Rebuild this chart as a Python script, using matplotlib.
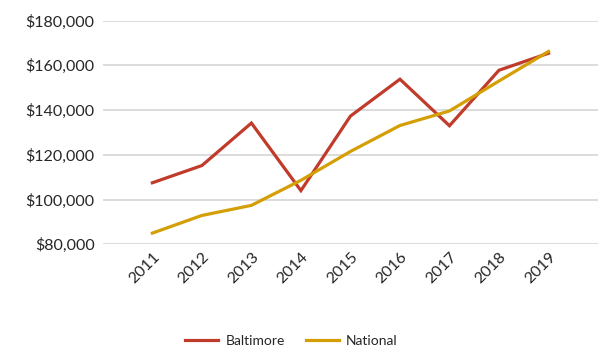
import numpy as np
import matplotlib.pyplot as plt
from matplotlib.ticker import FuncFormatter

# data
years = [2011, 2012, 2013, 2014, 2015, 2016, 2017, 2018, 2019]
baltimore = [107500, 115200, 134200, 104000, 137300, 153800, 133000, 157800, 165400]
national = [85000, 92900, 97400, 108600, 121500, 133100, 139600, 153000, 166200]

plt.rcParams['font.family'] = ['Lato', 'DejaVu Sans']

fig = plt.figure(figsize=(5.98, 3.49), dpi=100)
ax = fig.add_axes([0.172, 0.300, 0.828, 0.641])

ax.plot(years, baltimore, color='#C13B2A', lw=2.3, label='Baltimore', solid_joinstyle='miter')
ax.plot(years, national, color='#D49F05', lw=2.3, label='National', solid_joinstyle='miter')

ax.set_xlim(2010, 2020)
ax.set_ylim(80000, 180000)
ax.set_yticks(np.arange(80000, 180001, 20000))
ax.yaxis.set_major_formatter(FuncFormatter(lambda v, p: "${:,.0f}".format(v)))
ax.set_xticks(years)
ax.set_xticklabels([str(y) for y in years], rotation=45, ha='right', rotation_mode='anchor')

ax.grid(axis='y', color='#d9d9d9', lw=1.3)
ax.set_axisbelow(True)
for s in ax.spines.values():
    s.set_visible(False)
ax.tick_params(length=0, labelsize=11.5, colors='#262626', pad=6)
ax.tick_params(axis='x', pad=4)

fig.legend(loc='center', bbox_to_anchor=(0.487, 0.023), ncol=2, frameon=False,
           fontsize=10, handlelength=2.4, handletextpad=0.5, columnspacing=1.5,
           labelcolor='#262626')

fig.savefig('out.png', dpi=100)
